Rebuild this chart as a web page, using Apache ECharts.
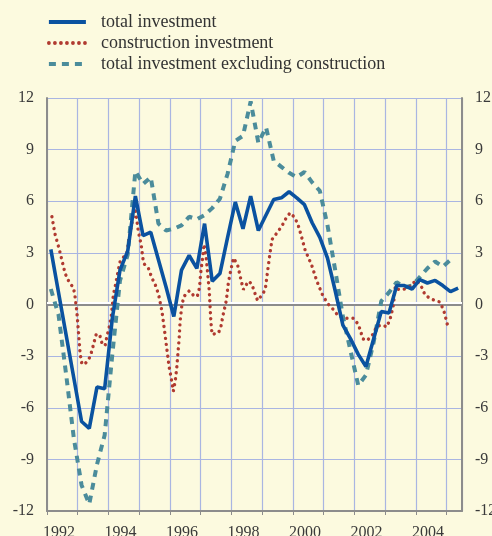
<!DOCTYPE html>
<html>
<head>
<meta charset="utf-8">
<title>Investment</title>
<script src="https://cdn.jsdelivr.net/npm/echarts@6/dist/echarts.min.js"></script>
<style>
  html, body { margin: 0; padding: 0; background: #fcfadf; }
  #main { width: 492px; height: 536px; }
</style>
</head>
<body>
<div id="main"></div>
<script>
// quarterly series, first quarter = 1992Q1
var firstYear = 1992;
var totalInvestment = [
  3.2, 0.7, -1.8, -4.3, -6.8, -7.2, -4.8, -4.9,
  -0.8, 2.0, 3.1, 6.3, 4.0, 4.2, 2.6, 1.0,
  -0.7, 2.0, 2.85, 2.1, 4.7, 1.35, 1.8, 3.9,
  5.95, 4.4, 6.3, 4.3, 5.2, 6.1, 6.2, 6.55,
  6.2, 5.8, 4.75, 3.9, 2.7, 0.8, -1.2, -2.0,
  -2.9, -3.6, -2.0, -0.4, -0.5, 1.1, 1.1, 0.9,
  1.45, 1.25, 1.4, 1.1, 0.75, 0.95
];
var exclConstruction = [
  0.9, -0.6, -4.1, -7.8, -10.5, -11.6, -9.3, -7.6,
  -2.9, 1.4, 2.9, 7.75, 7.0, 7.4, 4.7, 4.3,
  4.4, 4.6, 5.1, 4.95, 5.2, 5.6, 6.15, 7.6,
  9.5, 9.8, 11.8, 9.4, 10.3, 8.35, 8.0, 7.65,
  7.4, 7.7, 7.1, 6.6, 4.6, 2.0, -0.7, -2.7,
  -4.7, -4.1, -2.2, 0.2, 0.7, 1.3, 1.0, 1.1,
  1.6, 2.1, 2.5, 2.2, 2.6
];
// construction investment: [year, value]
var constructionPts = [
  [1992.16, 5.1], [1992.26, 4.1], [1992.40, 3.2], [1992.59, 1.8], [1992.72, 1.3],
  [1992.86, 0.97], [1992.91, 0.5], [1992.97, -0.4], [1993.03, -1.74], [1993.08, -2.9],
  [1993.13, -3.4], [1993.22, -3.5], [1993.38, -3.1], [1993.46, -2.7], [1993.53, -2.2],
  [1993.60, -1.74], [1993.71, -1.74], [1993.78, -2.2], [1993.89, -2.4], [1993.95, -1.84],
  [1994.02, -1.36], [1994.09, -0.68], [1994.16, 0.58], [1994.22, 1.06], [1994.32, 2.0],
  [1994.38, 2.5], [1994.60, 3.0], [1994.70, 4.1], [1994.79, 5.0], [1994.87, 5.6],
  [1994.97, 4.26], [1995.06, 3.5], [1995.14, 2.4], [1995.30, 2.1], [1995.41, 1.55],
  [1995.52, 1.16], [1995.63, 0.58], [1995.74, -0.4], [1995.84, -1.74], [1995.90, -2.6],
  [1995.97, -3.6], [1996.04, -4.27], [1996.11, -5.04], [1996.17, -4.46], [1996.22, -3.7],
  [1996.30, -1.94], [1996.33, -0.97], [1996.39, 0], [1996.46, 0.48], [1996.63, 0.8],
  [1996.79, 0.48], [1996.89, 0.48], [1996.96, 0.97], [1997.00, 1.84], [1997.06, 2.7],
  [1997.11, 3.5], [1997.18, 2.7], [1997.22, 1.94], [1997.28, 0.77], [1997.33, -0.97],
  [1997.37, -1.74], [1997.58, -1.65], [1997.66, -1.26], [1997.72, -0.68], [1997.83, 0.2],
  [1997.90, 1.26], [1997.99, 2.1], [1998.07, 2.7], [1998.13, 2.75], [1998.20, 2.3],
  [1998.26, 1.84], [1998.32, 1.35], [1998.39, 0.87], [1998.55, 1.35], [1998.66, 1.2],
  [1998.74, 0.77], [1998.85, 0.23], [1998.99, 0.54], [1999.10, 0.87], [1999.17, 1.84],
  [1999.24, 2.8], [1999.32, 3.78], [1999.48, 4.16], [1999.64, 4.55], [1999.78, 5.03],
  [1999.91, 5.33], [2000.07, 5.03], [2000.18, 4.55], [2000.26, 4.07], [2000.40, 3.14],
  [2000.51, 2.7], [2000.62, 2.23], [2000.78, 1.35], [2000.98, 0.48], [2001.16, 0],
  [2001.32, -0.3], [2001.48, -0.68], [2001.70, -0.8], [2001.97, -0.8], [2002.13, -1.16],
  [2002.28, -2.0], [2002.41, -2.1], [2002.60, -1.74], [2002.73, -1.26], [2002.90, -1.2],
  [2003.06, -1.3], [2003.19, -0.68], [2003.27, 0], [2003.33, 1.06], [2003.44, 0.87],
  [2003.65, 0.9], [2003.82, 1.06], [2003.92, 1.26], [2004.03, 1.4], [2004.20, 0.97],
  [2004.30, 0.54], [2004.52, 0.3], [2004.77, 0.15], [2004.90, -0.3], [2005.03, -1.2]
];
var seriesNames = ['total investment', 'construction investment', 'total investment excluding construction'];
var yTicks = [-12, -9, -6, -3, 0, 3, 6, 9, 12];

function quarterly(values) {
  return values.map(function (v, i) {
    return [firstYear + i * 0.25 + 0.125, v];
  });
}

var font = 'Liberation Serif';
var myChart = echarts.init(document.getElementById('main'));

var yAxisBase = {
  type: 'value',
  min: yTicks[0],
  max: yTicks[yTicks.length - 1],
  interval: 3,
  axisLine: { show: true, lineStyle: { color: '#8c8c8c', width: 2 } },
  axisTick: { show: false },
  axisLabel: { fontFamily: font, fontSize: 16, color: '#3a3a3a', margin: 13 },
  splitLine: { show: false }
};

var option = {
  backgroundColor: '#fcfadf',
  animation: false,
  legend: {
    orient: 'vertical',
    left: 47,
    top: 13,
    padding: 0,
    itemWidth: 37,
    itemHeight: 12,
    itemGap: 3,
    data: seriesNames,
    itemStyle: { opacity: 0 },
    lineStyle: { width: 3.8 },
    textStyle: { fontFamily: font, fontSize: 18, color: '#333', padding: [0, 0, 0, 10] }
  },
  grid: { left: 47, right: 30, top: 98, bottom: 25, containLabel: false, outerBoundsMode: 'none' },
  xAxis: {
    type: 'value',
    min: 1992,
    max: 2005.5,
    interval: 1,
    axisLine: { show: true, onZero: false, lineStyle: { color: '#8c8c8c', width: 2 } },
    axisTick: { show: true, length: 4, lineStyle: { color: '#8c8c8c' } },
    axisLabel: {
      fontFamily: font, fontSize: 16, color: '#3a3a3a', margin: 14,
      padding: [0, 0, 0, 24],
      showMaxLabel: false,
      formatter: function (v) { return (v % 2 === 0) ? String(v) : ''; }
    },
    splitLine: { show: true, lineStyle: { color: '#a9b5e2', width: 1.2 } }
  },
  yAxis: [
    echarts.util.merge({
      position: 'left',
      splitLine: { show: true, lineStyle: { color: '#a9b5e2', width: 1.2 } }
    }, yAxisBase, false),
    echarts.util.merge({ position: 'right' }, yAxisBase, false)
  ],
  series: [
    {
      name: seriesNames[2],
      type: 'line',
      data: quarterly(exclConstruction),
      showSymbol: false,
      symbol: 'none',
      lineStyle: { color: '#4b8c9b', width: 4, type: [7, 6] },
      itemStyle: { color: '#4b8c9b' },
      z: 2,
      markLine: {
        silent: true,
        symbol: 'none',
        label: { show: false },
        data: [{ yAxis: 0 }],
        lineStyle: {
          color: '#8c8c8c', width: 2, type: 'solid',
          shadowColor: '#ffffff', shadowOffsetY: -2, shadowBlur: 0
        },
        z: 1
      }
    },
    {
      name: seriesNames[1],
      type: 'line',
      data: constructionPts,
      showSymbol: false,
      symbol: 'none',
      lineStyle: { color: '#b03a30', width: 3.4, type: [0.01, 6], cap: 'round' },
      itemStyle: { color: '#b03a30' },
      z: 3
    },
    {
      name: seriesNames[0],
      type: 'line',
      data: quarterly(totalInvestment),
      showSymbol: false,
      symbol: 'none',
      lineStyle: { color: '#0a52a0', width: 3.6 },
      itemStyle: { color: '#0a52a0' },
      z: 4
    }
  ]
};
myChart.setOption(option);
</script>
</body>
</html>
